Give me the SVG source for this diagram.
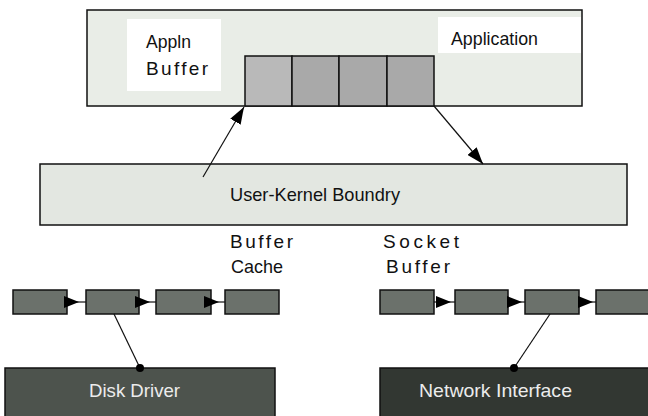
<svg xmlns="http://www.w3.org/2000/svg" width="648" height="416" viewBox="0 0 648 416">
<style>
.t{font-family:"Liberation Sans",Arial,sans-serif;font-size:19px;fill:#111}
.w{fill:#ececec}
.box{stroke:#111;stroke-width:1.5}
.cell{fill:#a9a9a9;stroke:#111;stroke-width:1.5}
.link{fill:#6b716b;stroke:#111;stroke-width:1.5}
.c{fill:none;stroke:#111;stroke-width:1.2}
</style>
<defs>
<marker id="ah" viewBox="0 0 17 12" refX="17" refY="6" markerWidth="17" markerHeight="12" markerUnits="userSpaceOnUse" orient="auto"><path d="M0,0 L17,6 L0,12 Z" fill="#000"/></marker>
<marker id="mh" viewBox="0 0 15 12" refX="15" refY="6" markerWidth="15" markerHeight="12" markerUnits="userSpaceOnUse" orient="auto"><path d="M0,0 L15,6 L0,12 Z" fill="#000"/></marker>
<marker id="dot" viewBox="0 0 8 8" refX="4" refY="4" markerWidth="8" markerHeight="8" markerUnits="userSpaceOnUse"><circle cx="4" cy="4" r="4" fill="#000"/></marker>
</defs>
<rect width="648" height="416" fill="#fff"/>
<g id="application">
<rect class="box" x="87" y="10" width="495" height="96" fill="#e9ede7"/>
<rect x="127" y="19" width="94" height="72" fill="#fff"/>
<rect x="438" y="17" width="143" height="36" fill="#fff"/>
<text class="t" x="451" y="45" textLength="87" lengthAdjust="spacingAndGlyphs">Application</text>
</g>
<g id="appln-buffer">
<text class="t" x="146" y="48" textLength="45" lengthAdjust="spacingAndGlyphs">Appln</text>
<text class="t" x="146" y="75" textLength="62" lengthAdjust="spacing">Buffer</text>
<rect class="cell" x="245" y="56" width="47" height="50" style="fill:#b9b9b9"/>
<rect class="cell" x="292" y="56" width="47" height="50"/>
<rect class="cell" x="339" y="56" width="48" height="50"/>
<rect class="cell" x="387" y="56" width="47" height="50"/>
</g>
<g id="kernel">
<rect class="box" x="40" y="164" width="587" height="61" fill="#e3e7e1"/>
<text class="t" x="230" y="201" textLength="170" lengthAdjust="spacingAndGlyphs">User-Kernel Boundry</text>
</g>
<g id="buffer-cache">
<text class="t" x="230" y="248" textLength="63" lengthAdjust="spacing">Buffer</text>
<text class="t" x="231" y="273" textLength="52" lengthAdjust="spacingAndGlyphs">Cache</text>
<rect class="link" x="13" y="290" width="54" height="24"/>
<rect class="link" x="86" y="290" width="53" height="24"/>
<rect class="link" x="156" y="290" width="55" height="24"/>
<rect class="link" x="225" y="290" width="54" height="24"/>
</g>
<g id="socket-buffer">
<text class="t" x="383" y="248" textLength="76" lengthAdjust="spacing">Socket</text>
<text class="t" x="386" y="273" textLength="64" lengthAdjust="spacing">Buffer</text>
<rect class="link" x="380" y="290" width="54" height="24"/>
<rect class="link" x="455" y="290" width="53" height="24"/>
<rect class="link" x="525" y="290" width="54" height="24"/>
<rect class="link" x="596" y="290" width="60" height="24"/>
</g>
<g id="disk-driver">
<rect class="box" x="5" y="368" width="270" height="52" fill="#4d534d"/>
<text class="t w" x="89" y="397" textLength="91" lengthAdjust="spacingAndGlyphs">Disk Driver</text>
</g>
<g id="network-interface">
<rect class="box" x="380" y="368" width="275" height="52" fill="#323732"/>
<text class="t w" x="419" y="397" textLength="153" lengthAdjust="spacingAndGlyphs">Network Interface</text>
</g>
<g id="connectors">
<path class="c" d="M203,177 L244,107" marker-end="url(#ah)"/>
<path class="c" d="M434,106 L483,164" marker-end="url(#ah)"/>
<path class="c" d="M64,302 L79,302 L86,302" marker-mid="url(#mh)"/>
<path class="c" d="M135,302 L150,302 L156,302" marker-mid="url(#mh)"/>
<path class="c" d="M204,302 L219,302 L225,302" marker-mid="url(#mh)"/>
<path class="c" d="M434,302 L451,302 L455,302" marker-mid="url(#mh)"/>
<path class="c" d="M507,302 L522,302 L525,302" marker-mid="url(#mh)"/>
<path class="c" d="M578,302 L593,302 L596,302" marker-mid="url(#mh)"/>
<path class="c" d="M114,314 L140,368" marker-end="url(#dot)"/>
<path class="c" d="M550,314 L514,368" marker-end="url(#dot)"/>
</g>
</svg>
